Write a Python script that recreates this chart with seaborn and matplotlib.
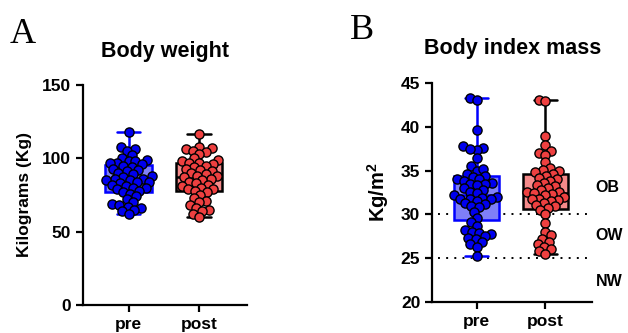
import matplotlib
matplotlib.use("Agg")
import matplotlib.pyplot as plt
import matplotlib.transforms as mtransforms
import pandas as pd
import seaborn as sns

# ── data ──
groups = ["pre", "post"]

weight_pre = [118, 108, 106, 105, 102, 100, 99, 98, 98, 97, 97, 96, 95, 94, 93, 92,
              91, 90, 89, 88, 87, 86, 86, 85, 85, 84, 84, 83, 82, 81, 80, 80, 79, 78,
              77, 76, 74, 72, 70, 69, 68, 67, 66, 65, 64, 62]
weight_post = [116.5, 108, 107, 106, 105, 104, 103, 100, 99, 98, 97, 97, 96, 95, 94, 93,
               92, 91, 90, 89, 88, 88, 87, 86, 85, 84, 83, 82, 81, 80, 79, 79, 78, 77,
               75, 73, 71, 70, 68, 66, 65, 64, 62, 60]

bmi_pre = [43.3, 43.0, 39.6, 37.8, 37.6, 37.4, 37.5, 36.4, 35.5, 35.0, 35.2, 34.6, 34.4,
           34.3, 34.0, 34.0, 33.8, 33.6, 33.5, 33.5, 33.3, 33.0, 32.8, 32.6, 32.4, 32.2,
           32.0, 31.9, 31.8, 31.8, 31.7, 31.5, 31.3, 31.2, 31.0, 30.8, 30.3, 29.6, 29.1,
           28.7, 28.2, 28.0, 27.9, 27.8, 27.5, 27.3, 27.2, 26.8, 26.6, 26.3, 25.2]
bmi_post = [43.1, 42.9, 39.0, 37.9, 37.2, 37.0, 36.8, 36.0, 35.3, 35.1, 34.9, 34.8, 34.6,
            34.4, 34.2, 34.0, 33.8, 33.6, 33.4, 33.2, 33.0, 32.8, 32.6, 32.5, 32.4, 32.3,
            32.2, 32.0, 31.8, 31.7, 31.6, 31.5, 31.3, 31.1, 30.9, 30.7, 30.5, 30.0, 29.0,
            28.0, 27.6, 27.2, 26.9, 26.6, 26.3, 26.0, 25.8, 25.5]

bmi_cutoffs = [30, 25]
bmi_classes = ["OB", "OW", "NW"]
bmi_class_y = [33.1, 27.6, 22.3]

box_fill = {"pre": "#7f7ff7", "post": "#f58a8a"}
box_edge = {"pre": "#0000ff", "post": "#000000"}
dot_color = {"pre": "#0000ee", "post": "#ee4040"}

# swarm is laid out with small markers, then drawn with big ones so they overlap
# like the Prism beeswarm does
LAYOUT_SIZE = 3.8
DOT_SIZE = 6.6

sns.set_style("ticks")
plt.rcParams["font.family"] = ["Liberation Sans", "DejaVu Sans"]
plt.rcParams["font.weight"] = "bold"
plt.rcParams["mathtext.fontset"] = "custom"
plt.rcParams["mathtext.bf"] = "Liberation Sans:bold"
plt.rcParams["mathtext.rm"] = "Liberation Sans:bold"
for key in ("text.color", "axes.labelcolor", "axes.edgecolor", "xtick.color", "ytick.color"):
    plt.rcParams[key] = "black"


def panel(ax, pre, post, title, ylabel, ylim, yticks, pad, ylabel_size, labelpad):
    df = pd.DataFrame({
        "group": ["pre"] * len(pre) + ["post"] * len(post),
        "value": list(pre) + list(post),
    })
    for g in groups:
        sub = df[df["group"] == g]
        sns.boxplot(data=sub, x="group", y="value", order=groups, ax=ax,
                    color=box_fill[g], linecolor=box_edge[g], linewidth=1.8,
                    width=0.66, whis=(0, 100), showfliers=False, saturation=1)
        sns.swarmplot(data=sub, x="group", y="value", order=groups, ax=ax,
                      color=dot_color[g], edgecolor="black", linewidth=1.0,
                      size=LAYOUT_SIZE, warn_thresh=1)
    ax.set_xlim(-0.65, 1.68)
    ax.set_ylim(*ylim)
    ax.set_yticks(yticks)
    ax.set_xlabel("")
    ax.set_ylabel(ylabel, fontsize=ylabel_size, fontweight="bold", labelpad=labelpad)
    ax.set_title(title, fontsize=15.5, fontweight="bold", pad=pad)
    sns.despine(ax=ax)
    for s in ("left", "bottom"):
        ax.spines[s].set_linewidth(1.6)
    ax.tick_params(width=1.6, length=5, labelsize=12.5)
    for lab in ax.get_xticklabels() + ax.get_yticklabels():
        lab.set_fontweight("bold")


fig = plt.figure(figsize=(6.28, 3.33), dpi=100)
axA = fig.add_axes([0.132, 0.084, 0.261, 0.661])
axB = fig.add_axes([0.688, 0.093, 0.255, 0.658])

panel(axA, weight_pre, weight_post, "Body weight", "Kilograms (Kg)",
      (0, 150), [0, 50, 100, 150], 20, 12.5, 7)
panel(axB, bmi_pre, bmi_post, "Body index mass", r"Kg/m$^{\mathbf{2}}$",
      (20, 45), [20, 25, 30, 35, 40, 45], 21, 14.5, 7)

for c in bmi_cutoffs:
    axB.axhline(c, xmin=0.035, color="black", linestyle=(0, (1, 3.2)),
                linewidth=1.4, zorder=0)

trans = mtransforms.blended_transform_factory(axB.transAxes, axB.transData)
for lab, y in zip(bmi_classes, bmi_class_y):
    axB.text(1.02, y, lab, transform=trans, ha="left", va="center",
             fontsize=11.5, fontweight="bold", clip_on=False)

fig.text(0.016, 0.871, "A", family="Liberation Serif", fontsize=26, fontweight="normal")
fig.text(0.557, 0.883, "B", family="Liberation Serif", fontsize=26, fontweight="normal")

# run the swarm layout once, then freeze positions and enlarge the dots
fig.canvas.draw()
for ax in (axA, axB):
    for coll in ax.collections:
        if "draw" in coll.__dict__:
            del coll.draw
        coll.set_sizes([DOT_SIZE ** 2])

fig.savefig("out.png", dpi=100)
